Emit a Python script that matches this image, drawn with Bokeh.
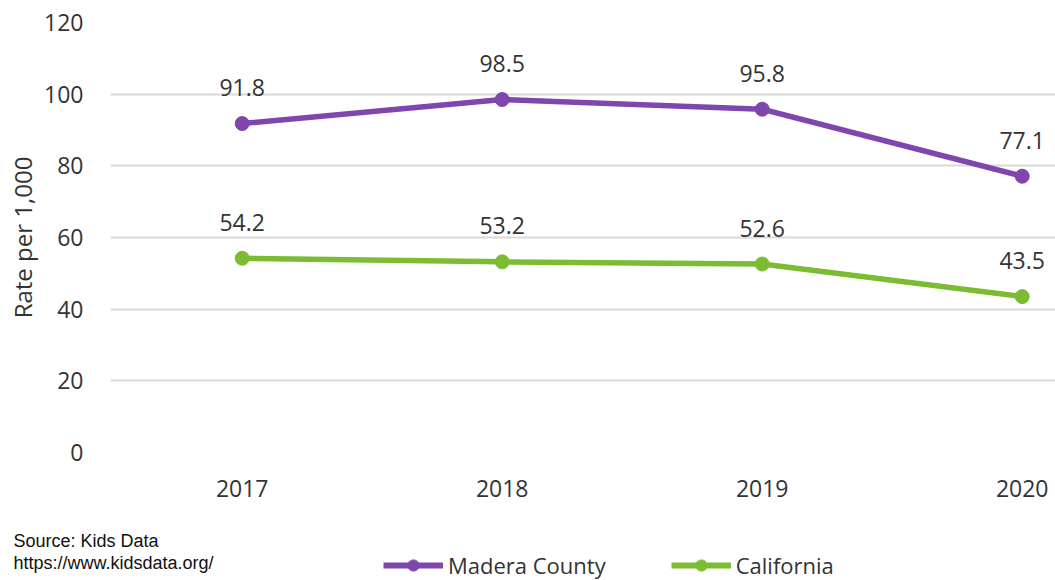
from bokeh.plotting import figure
from bokeh.layouts import column
from bokeh.models import ColumnDataSource, FixedTicker, Legend, LegendItem, Label, LabelSet
from bokeh.core.properties import value
from bokeh.embed import file_html
from bokeh.resources import INLINE

years = [2017, 2018, 2019, 2020]
madera = [91.8, 98.5, 95.8, 77.1]
california = [54.2, 53.2, 52.6, 43.5]
series_names = ["Madera County", "California"]
y_ticks = [0, 20, 40, 60, 80, 100, 120]
source_lines = ["Source: Kids Data", "https://www.kidsdata.org/"]

PURPLE = "#7F47AE"
GREEN = "#7CBC33"
TXT = "#333333"
FONT = "Open Sans"
W = 1055

# ---- main chart ----
p = figure(width=W, height=516, output_backend="svg", toolbar_location=None,
           x_range=(2016.4935, 2020.128), y_range=(0, 120),
           min_border_left=110, min_border_right=0, min_border_top=22, min_border_bottom=64)
p.outline_line_color = None
p.frame_align = False

p.xaxis.ticker = FixedTicker(ticks=years)
p.yaxis.ticker = FixedTicker(ticks=y_ticks)
for ax in (p.xaxis, p.yaxis):
    ax.axis_line_color = None
    ax.major_tick_line_color = None
    ax.minor_tick_line_color = None
    ax.major_tick_out = 0
    ax.major_tick_in = 0
    ax.major_label_text_font = FONT
    ax.major_label_text_font_size = "23px"
    ax.major_label_text_color = TXT
p.xaxis.major_label_standoff = 27
p.yaxis.major_label_standoff = 27
p.yaxis.axis_label = "Rate per 1,000"
p.yaxis.axis_label_text_font = FONT
p.yaxis.axis_label_text_font_style = "normal"
p.yaxis.axis_label_text_font_size = "24px"
p.yaxis.axis_label_text_color = TXT
p.yaxis.axis_label_standoff = 2

p.xgrid.grid_line_color = None
p.ygrid.grid_line_color = "#D9D9D9"
p.ygrid.grid_line_width = 2

src_m = ColumnDataSource(dict(x=years, y=madera, t=[f"{v:.1f}" for v in madera]))
src_c = ColumnDataSource(dict(x=years, y=california, t=[f"{v:.1f}" for v in california]))

p.line("x", "y", source=src_m, line_color=PURPLE, line_width=5.5)
p.scatter("x", "y", source=src_m, size=14, color=PURPLE)
p.line("x", "y", source=src_c, line_color=GREEN, line_width=5.5)
p.scatter("x", "y", source=src_c, size=14, color=GREEN)

for src in (src_m, src_c):
    p.add_layout(LabelSet(x="x", y="y", text="t", source=src, y_offset=36,
                          text_align="center", text_baseline="middle",
                          text_font=value(FONT), text_font_size="23px", text_color=TXT))

# ---- footer: source note and legend ----
FH = 64
f = figure(width=W, height=FH, output_backend="svg", toolbar_location=None,
           x_range=(0, W), y_range=(0, FH), x_axis_location=None, y_axis_location=None,
           min_border_left=0, min_border_right=0, min_border_top=0, min_border_bottom=0)
f.outline_line_color = None
f.frame_align = False
f.grid.visible = False

legend_items = []
for name, col in zip(series_names, (PURPLE, GREEN)):
    # legend proxies: a single non-drawable point so the legend has glyph styling
    proxy_src = ColumnDataSource(dict(x=[float("nan")], y=[float("nan")]))
    rl = f.line("x", "y", source=proxy_src, line_color=col, line_width=6)
    rs = f.scatter("x", "y", source=proxy_src, size=12, color=col)
    legend_items.append(LegendItem(label=name, renderers=[rl, rs]))

legend = Legend(items=legend_items, orientation="horizontal", location=(383, 0),
                glyph_width=60, glyph_height=28, label_standoff=5, spacing=65,
                padding=0, margin=0, border_line_color=None, background_fill_alpha=0,
                label_text_font=FONT, label_text_font_size="22px", label_text_color=TXT)
f.add_layout(legend)

for txt, yy in zip(source_lines, (40, 18)):
    f.add_layout(Label(x=13, y=yy, x_units="screen", y_units="screen", text=txt,
                       text_font="Liberation Sans", text_font_size="18px",
                       text_color="#111111", text_baseline="middle", text_align="left"))

layout = column(p, f, spacing=0)
open("out.html", "w").write(file_html(layout, INLINE))
